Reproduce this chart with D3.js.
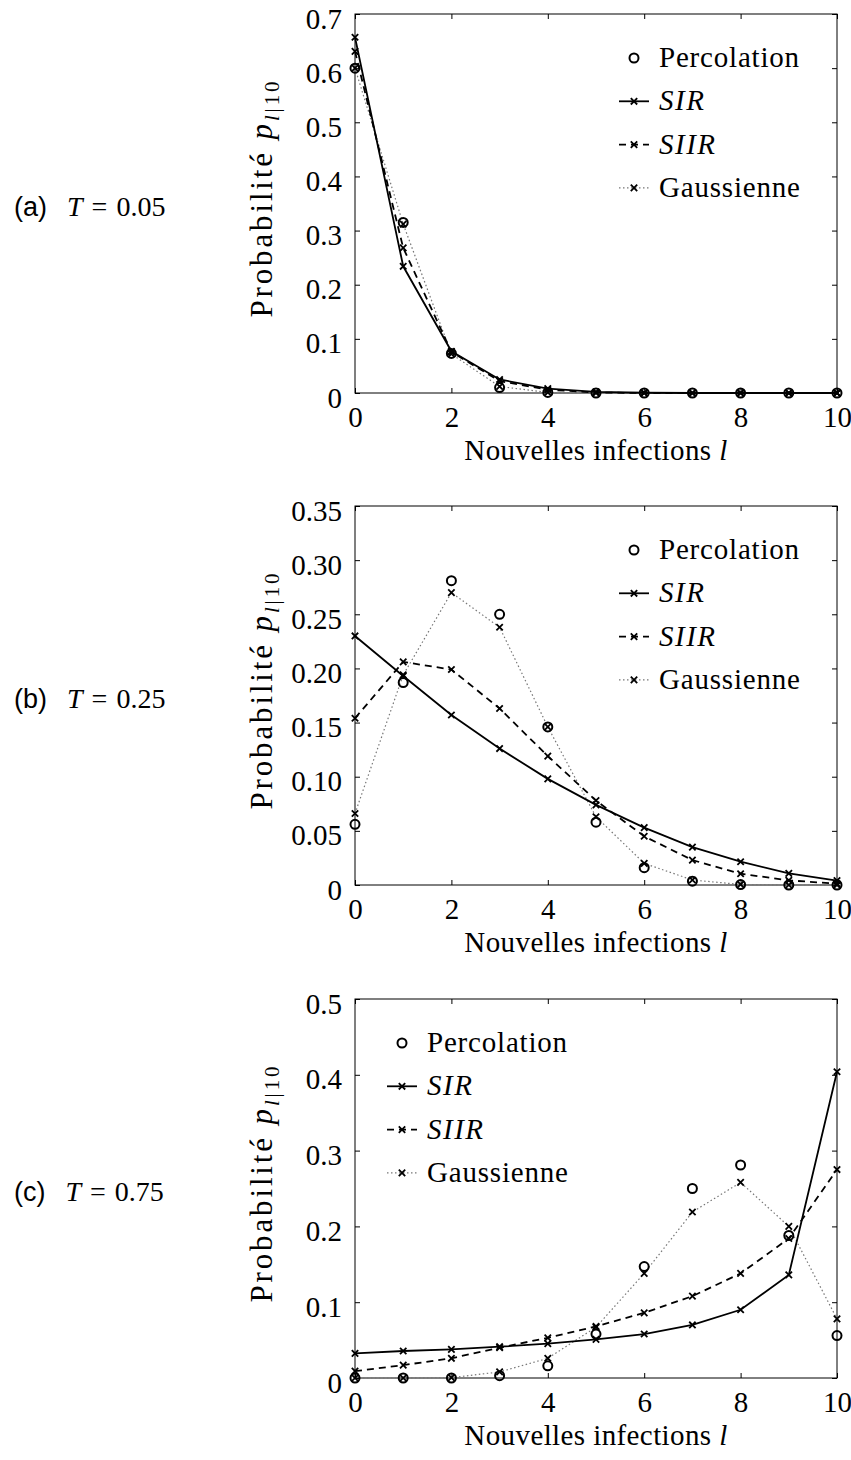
<!DOCTYPE html>
<html>
<head>
<meta charset="utf-8">
<script src="https://cdn.jsdelivr.net/npm/d3@7"></script>
<style>
  body { margin: 0; background: #fff; }
  svg text { font-family: "Liberation Serif", "DejaVu Serif", serif; fill: #000; }
</style>
</head>
<body>
<svg id="fig" width="851" height="1460"></svg>
<script>
// Nombre de nouvelles infections l
const infections = [0, 1, 2, 3, 4, 5, 6, 7, 8, 9, 10];
const xTicks = [0, 2, 4, 6, 8, 10];

// (a) T = 0.05
const percoA = [0.600, 0.315, 0.073, 0.010, 0.001, 0, 0, 0, 0, 0, 0];
const sirA   = [0.657, 0.234, 0.077, 0.025, 0.008, 0.002, 0.0005, 0, 0, 0, 0];
const siirA  = [0.631, 0.268, 0.076, 0.022, 0.006, 0.001, 0, 0, 0, 0, 0];
const gaussA = [0.600, 0.312, 0.072, 0.012, 0.001, 0, 0, 0, 0, 0, 0];
const yTicksA = [0, 0.1, 0.2, 0.3, 0.4, 0.5, 0.6, 0.7];

// (b) T = 0.25
const percoB = [0.056, 0.187, 0.281, 0.250, 0.146, 0.058, 0.016, 0.0035, 0.0004, 0, 0];
const sirB   = [0.230, 0.193, 0.157, 0.126, 0.098, 0.074, 0.053, 0.035, 0.0215, 0.0107, 0.004];
const siirB  = [0.154, 0.206, 0.199, 0.163, 0.119, 0.078, 0.045, 0.023, 0.0104, 0.0043, 0.0012];
const gaussB = [0.066, 0.194, 0.270, 0.238, 0.146, 0.063, 0.020, 0.0046, 0.0005, 0, 0];
const yTicksB = [0, 0.05, 0.10, 0.15, 0.20, 0.25, 0.30, 0.35];

// (c) T = 0.75
const percoC = [0, 0, 0, 0.003, 0.016, 0.058, 0.147, 0.250, 0.281, 0.188, 0.056];
const sirC   = [0.0325, 0.0356, 0.0378, 0.0413, 0.0453, 0.051, 0.058, 0.070, 0.090, 0.136, 0.404];
const siirC  = [0.009, 0.017, 0.026, 0.040, 0.053, 0.068, 0.086, 0.108, 0.138, 0.184, 0.275];
const gaussC = [0, 0, 0.0005, 0.008, 0.026, 0.067, 0.138, 0.219, 0.258, 0.200, 0.078];
const yTicksC = [0, 0.1, 0.2, 0.3, 0.4, 0.5];

const legendLabels = ["Percolation", "SIR", "SIIR", "Gaussienne"];

const SERIF = "'Liberation Serif', 'DejaVu Serif', serif";
const svg = d3.select("#fig");
const left = 355, right = 837, plotH = 379;
const x = d3.scaleLinear().domain([0, 10]).range([left, right]);

dessinerPanneau("(a)", "0.05", 14, 0.7, yTicksA, d3.format(".1f"), [percoA, sirA, siirA, gaussA], "droite");
dessinerPanneau("(b)", "0.25", 506, 0.35, yTicksB, d3.format(".2f"), [percoB, sirB, siirB, gaussB], "droite");
dessinerPanneau("(c)", "0.75", 999, 0.5, yTicksC, d3.format(".1f"), [percoC, sirC, siirC, gaussC], "gauche");

function croix(sel) {
    sel.append("path")
        .attr("d", "M-3.2,-3.2L3.2,3.2M-3.2,3.2L3.2,-3.2")
        .attr("stroke", "#000")
        .attr("stroke-width", 1.8)
        .attr("fill", "none");
}

function styleAxe(a) {
    a.attr("font-family", SERIF).attr("font-size", 29);
    a.select(".domain").remove();
    a.selectAll(".tick line").attr("stroke", "#000");
    a.selectAll(".tick text").attr("fill", "#000");
}

function dessinerPanneau(lettre, valT, top, yMax, yTicks, fmt, series, posLegende) {
    const bottom = top + plotH;
    const y = d3.scaleLinear().domain([0, yMax]).range([bottom, top]);
    const g = svg.append("g");

    // axes avec graduations vers l'intérieur
    g.append("g").attr("transform", `translate(0,${bottom})`)
        .call(d3.axisBottom(x).tickValues(xTicks).tickSize(-5).tickFormat(d3.format("d")))
        .call(styleAxe)
        .call(a => a.selectAll(".tick text").attr("y", 34).attr("dy", null));
    g.append("g").attr("transform", `translate(0,${top})`)
        .call(d3.axisTop(x).tickValues(xTicks).tickSize(-5).tickFormat(""))
        .call(styleAxe);
    g.append("g").attr("transform", `translate(${left},0)`)
        .call(d3.axisLeft(y).tickValues(yTicks).tickSize(-5).tickFormat(d => d === 0 ? "0" : fmt(d)))
        .call(styleAxe)
        .call(a => a.selectAll(".tick text").attr("x", -13).attr("y", 14).attr("dy", null));
    g.append("g").attr("transform", `translate(${right},0)`)
        .call(d3.axisRight(y).tickValues(yTicks).tickSize(-5).tickFormat(""))
        .call(styleAxe);

    g.append("rect")
        .attr("x", left).attr("y", top)
        .attr("width", right - left).attr("height", plotH)
        .attr("fill", "none").attr("stroke", "#000").attr("stroke-width", 1);

    const [perco, sir, siir, gauss] = series;
    const ligne = d3.line().x((d, i) => x(infections[i])).y(d => y(d));

    // Gaussienne (pointillé gris)
    g.append("path").datum(gauss).attr("d", ligne)
        .attr("fill", "none").attr("stroke", "#777").attr("stroke-width", 1.2)
        .attr("stroke-dasharray", "1.5,2.5");
    // SIIR (tirets)
    g.append("path").datum(siir).attr("d", ligne)
        .attr("fill", "none").attr("stroke", "#000").attr("stroke-width", 1.8)
        .attr("stroke-dasharray", "7,5");
    // SIR (trait plein)
    g.append("path").datum(sir).attr("d", ligne)
        .attr("fill", "none").attr("stroke", "#000").attr("stroke-width", 1.8);

    [sir, siir, gauss].forEach(s => {
        g.append("g").selectAll("g").data(s).enter().append("g")
            .attr("transform", (d, i) => `translate(${x(infections[i])},${y(d)})`)
            .call(croix);
    });

    g.append("g").selectAll("circle").data(perco).enter().append("circle")
        .attr("cx", (d, i) => x(infections[i]))
        .attr("cy", d => y(d))
        .attr("r", 4.5)
        .attr("fill", "none").attr("stroke", "#000").attr("stroke-width", 2);

    // légende
    const lx = posLegende === "droite" ? 634 : 402;
    legendLabels.forEach((lab, i) => {
        const cy = top + 44 + i * 43.3;
        const item = g.append("g").attr("transform", `translate(${lx},${cy})`);
        if (i === 0) {
            item.append("circle").attr("r", 4.5).attr("fill", "none").attr("stroke", "#000").attr("stroke-width", 2);
        } else {
            const trait = item.append("line").attr("x1", -15).attr("x2", 15)
                .attr("stroke", i === 3 ? "#777" : "#000")
                .attr("stroke-width", i === 3 ? 1.2 : 1.8);
            if (i === 2) trait.attr("stroke-dasharray", "7,5");
            if (i === 3) trait.attr("stroke-dasharray", "1.5,2.5");
            item.append("g").call(croix);
        }
        item.append("text")
            .attr("x", 25).attr("y", 9)
            .style("font-size", "29px")
            .style("font-style", i === 1 || i === 2 ? "italic" : "normal")
            .style("letter-spacing", i === 1 || i === 2 ? "1.5px" : "0.8px")
            .text(lab);
    });

    // titres des axes
    const xl = g.append("text")
        .attr("x", (left + right) / 2).attr("y", bottom + 67)
        .attr("text-anchor", "middle")
        .style("font-size", "29px")
        .style("letter-spacing", "0.4px");
    xl.append("tspan").text("Nouvelles infections ");
    xl.append("tspan").style("font-style", "italic").text("l");

    const yl = g.append("text")
        .attr("transform", `translate(272,${top + plotH / 2 - 4}) rotate(-90)`)
        .attr("text-anchor", "middle")
        .attr("textLength", 236)
        .attr("lengthAdjust", "spacing")
        .style("font-size", "31px");
    yl.append("tspan").text("Probabilité ");
    yl.append("tspan").style("font-style", "italic").text("p");
    yl.append("tspan").attr("dy", 7).style("font-size", "21px").style("font-style", "italic").text("l");
    yl.append("tspan").style("font-size", "21px").text("|10");

    // étiquette du panneau
    const lbl = g.append("text")
        .attr("x", 14).attr("y", top + plotH / 2 + 12);
    lbl.append("tspan").style("font-family", "'Liberation Sans', 'DejaVu Sans', sans-serif").style("font-size", "27px").text(lettre);
    lbl.append("tspan").attr("dx", 20).style("font-style", "italic").style("font-size", "28px").text("T");
    lbl.append("tspan").attr("dx", 9).style("font-size", "28px").text("=");
    lbl.append("tspan").attr("dx", 9).style("font-size", "28px").text(valT);
}
</script>
</body>
</html>
